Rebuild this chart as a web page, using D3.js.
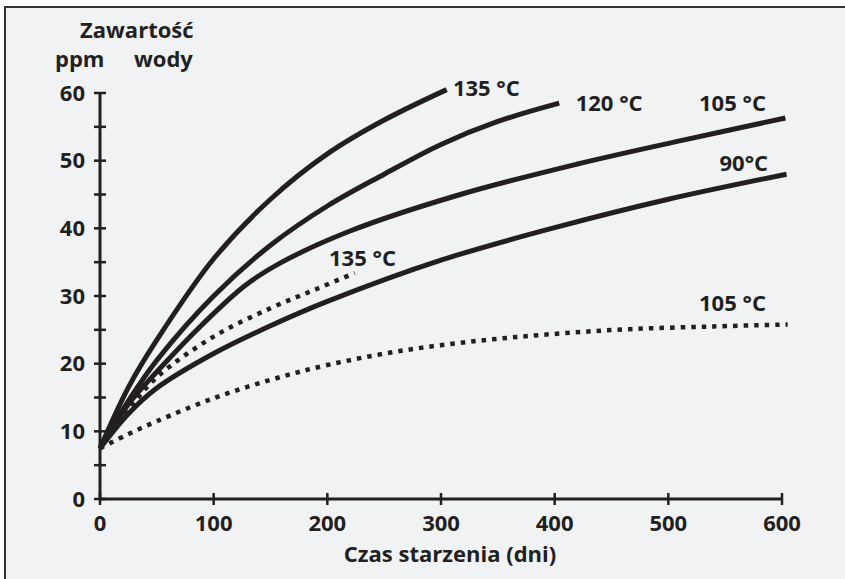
<!DOCTYPE html>
<html>
<head>
<meta charset="utf-8">
<script src="https://cdn.jsdelivr.net/npm/d3@7"></script>
<style>
  html, body { margin: 0; padding: 0; background: #ffffff; }
  svg { display: block; }
  text { font-family: "Open Sans", "Noto Sans", sans-serif; font-weight: 700; fill: #231f20; }
</style>
</head>
<body>
<svg id="chart" width="845" height="579"></svg>
<script>
// Water content (ppm) in oil vs. ageing time (days)
const solid135 = [[0,7.5],[25,16.5],[50,23.5],[100,35.5],[150,44.3],[200,51],[250,56],[305,60.5]];
const solid120 = [[0,7.5],[25,14.5],[50,20.5],[100,30],[150,37.5],[200,43.3],[250,48],[300,52.4],[350,55.8],[404,58.5]];
const solid105 = [[0,7.5],[25,14],[50,18.8],[90,25.8],[128,31.6],[160,35],[220,39.6],[317,45],[420,49.5],[512,53],[603,56.3]];
const solid90  = [[0,7.5],[25,12.6],[50,16.4],[100,21.5],[150,25.6],[200,29.2],[300,35.3],[400,40.1],[500,44.3],[604,48]];
const dotted135 = [[0,7.5],[25,13.2],[50,18],[100,24],[150,28.2],[190,31],[224,33.4]];
const dotted105 = [[0,7.5],[25,9.6],[50,11.5],[100,14.9],[150,17.6],[200,19.8],[265,21.9],[334,23.4],[400,24.4],[466,25.1],[540,25.5],[605,25.8]];

const xTicks = [0, 100, 200, 300, 400, 500, 600];
const yTicks = [0, 10, 20, 30, 40, 50, 60];
const yMinorTicks = [5, 15, 25, 35, 45, 55];

// curve labels, anchored at the left end of each text's baseline (data units)
const curveLabels = [
  { text: "135 °C", day: 310.5, ppm: 59.6 },
  { text: "120 °C", day: 418.5, ppm: 57.4 },
  { text: "105 °C", day: 527,   ppm: 57.4 },
  { text: "90°C",   day: 545,   ppm: 48.5 },
  { text: "135 °C", day: 201.5, ppm: 34.4 },
  { text: "105 °C", day: 527,   ppm: 27.8 }
];

const svg = d3.select("#chart");
const ink = "#231f20";

// framed panel
svg.append("rect").attr("x", 5).attr("y", 7).attr("width", 845).attr("height", 580)
  .attr("fill", "#f1f2f4");
svg.append("path").attr("d", "M5,579V7H845")
  .attr("fill", "none").attr("stroke", "#333").attr("stroke-width", 2);

const x = d3.scaleLinear().domain([0, 600]).range([100, 782]);
const y = d3.scaleLinear().domain([0, 60]).range([499, 93]);

const line = d3.line()
  .x(d => x(d[0])).y(d => y(d[1]))
  .curve(d3.curveCatmullRom.alpha(0.5));

// series
const series = [
  { data: solid135, dash: null },
  { data: solid120, dash: null },
  { data: solid105, dash: null },
  { data: solid90, dash: null },
  { data: dotted135, dash: "4.5,6" },
  { data: dotted105, dash: "4.5,6" }
];
series.forEach(s => {
  svg.append("path").datum(s.data)
    .attr("d", line)
    .attr("fill", "none")
    .attr("stroke", ink)
    .attr("stroke-width", s.dash ? 4.5 : 5)
    .attr("stroke-dasharray", s.dash)
    .attr("stroke-linecap", "butt")
    .attr("stroke-linejoin", "round");
});

// axes
const xAxis = svg.append("g").attr("transform", `translate(0,${y(0)})`);
xAxis.append("line").attr("x1", x(0)).attr("x2", x(600))
  .attr("stroke", ink).attr("stroke-width", 3);
xAxis.selectAll(".xt").data(xTicks).join("line")
  .attr("x1", d => x(d)).attr("x2", d => x(d))
  .attr("y1", -6).attr("y2", 6)
  .attr("stroke", ink).attr("stroke-width", 2.5);
xAxis.selectAll(".xl").data(xTicks).join("text")
  .attr("x", d => x(d)).attr("y", 32)
  .attr("text-anchor", "middle").attr("font-size", 22)
  .text(d => d);

const yAxis = svg.append("g").attr("transform", `translate(${x(0)},0)`);
yAxis.append("line").attr("y1", y(0)).attr("y2", y(60))
  .attr("stroke", ink).attr("stroke-width", 3);
yAxis.selectAll(".yt").data(yTicks.concat(yMinorTicks)).join("line")
  .attr("y1", d => y(d)).attr("y2", d => y(d))
  .attr("x1", -6).attr("x2", 6)
  .attr("stroke", ink).attr("stroke-width", 2.5);
yAxis.selectAll(".yl").data(yTicks).join("text")
  .attr("x", -15).attr("y", d => y(d))
  .attr("dy", "0.35em")
  .attr("text-anchor", "end").attr("font-size", 22)
  .text(d => d);

// axis titles
svg.append("text").attr("x", 450).attr("y", 562)
  .attr("text-anchor", "middle").attr("font-size", 22)
  .text("Czas starzenia (dni)");
svg.append("text").attr("x", 80).attr("y", 38).attr("font-size", 22).text("Zawartość");
svg.append("text").attr("x", 55).attr("y", 67).attr("font-size", 22).text("ppm");
svg.append("text").attr("x", 134).attr("y", 67).attr("font-size", 22).text("wody");

// curve labels
svg.selectAll(".curve-label").data(curveLabels).join("text")
  .attr("class", "curve-label")
  .attr("x", d => x(d.day))
  .attr("y", d => y(d.ppm))
  .attr("font-size", 22)
  .text(d => d.text);
</script>
</body>
</html>
